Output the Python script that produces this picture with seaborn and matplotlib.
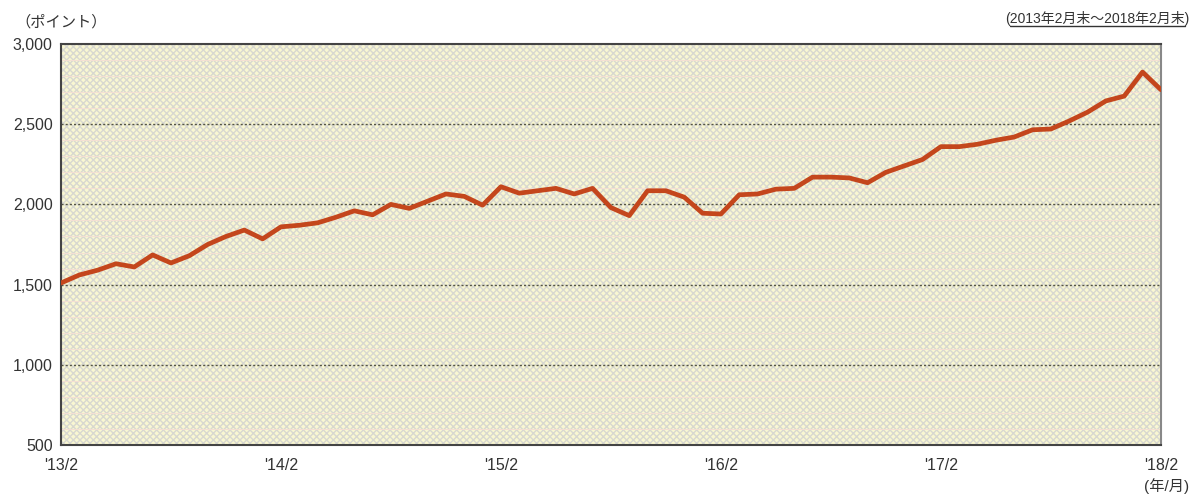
"""TOPIX-style index line chart, 2013/2 - 2018/2 month-end."""

import matplotlib
matplotlib.use("Agg")

import matplotlib.pyplot as plt  # noqa: E402
import numpy as np  # noqa: E402
import pandas as pd  # noqa: E402
import seaborn as sns  # noqa: E402
from matplotlib.patches import Rectangle  # noqa: E402

sns.set_theme(style="white")
plt.rcParams["font.family"] = ["Liberation Sans", "Noto Sans CJK JP"]

# Data (month-end values)
months = list(range(61))
values = [
    1510, 1560, 1590, 1630, 1610, 1685, 1635, 1680, 1750, 1800, 1840, 1785,
    1860, 1870, 1885, 1920, 1960, 1935, 2000, 1975, 2020, 2065, 2050, 1995,
    2110, 2070, 2085, 2100, 2065, 2100, 1980, 1930, 2085, 2085, 2045, 1945,
    1940, 2060, 2065, 2095, 2100, 2170, 2170, 2165, 2135, 2200, 2240, 2280,
    2360, 2360, 2375, 2400, 2420, 2465, 2470, 2520, 2575, 2645, 2675, 2825,
    2715,
]
xtick_pos = [0, 12, 24, 36, 48, 60]
xtick_labels = ["'13/2", "'14/2", "'15/2", "'16/2", "'17/2", "'18/2"]
ytick_pos = [500, 1000, 1500, 2000, 2500, 3000]

df = pd.DataFrame({"month": months, "value": values})

fig = plt.figure(figsize=(11.98, 4.97), dpi=100)
ax = fig.add_axes([0.0509, 0.1046, 0.9181, 0.8069])

# background: pale yellow with fine grey crosshatch
ax.set_facecolor("#f9f7d2")
ax.add_patch(Rectangle((0, 0), 1, 1, transform=ax.transAxes, facecolor="none",
                       edgecolor="#d8d8d0", hatch="xxxxx", linewidth=0, zorder=0))

# faint minor grid every 100, dotted major grid every 500
for yv in np.arange(600, 3000, 100):
    if yv % 500:
        ax.axhline(yv, color="#f4e0d4", linewidth=0.7, zorder=1)
for yv in [1000, 1500, 2000, 2500]:
    ax.axhline(yv, color="#555544", linewidth=1.0, linestyle=(0, (1.5, 1.5)), zorder=1)

sns.lineplot(data=df, x="month", y="value", ax=ax, color="#c4461c",
             linewidth=3.4, zorder=3)

ax.set_xlim(0, 60)
ax.set_ylim(500, 3000)
ax.set_xticks(xtick_pos)
ax.set_xticklabels(xtick_labels)
ax.set_yticks(ytick_pos)
ax.set_yticklabels([f"{v:,}" for v in ytick_pos])
ax.tick_params(axis="x", direction="in", length=4, width=1, color="#333333",
               labelsize=11.5, pad=9, labelcolor="#333333")
ax.tick_params(axis="y", length=0, labelsize=11.5, pad=6, labelcolor="#333333")
ax.set_xlabel("")
ax.set_ylabel("")
for side in ["left", "bottom", "top"]:
    ax.spines[side].set_color("#444444")
    ax.spines[side].set_linewidth(1.5)
ax.spines["right"].set_color("#888888")
ax.spines["right"].set_linewidth(1.5)

fig.text(0.013, 0.955, "（ポイント）", fontsize=11, color="#333333",
         ha="left", va="center")
fig.text(0.993, 0.022, "(年/月)", fontsize=11, color="#333333",
         ha="right", va="center")
t = fig.text(0.993, 0.962, "(2013年2月末～2018年2月末)", fontsize=10,
             color="#333333", ha="right", va="center")

# underline for period note
fig.canvas.draw()
bb = t.get_window_extent().transformed(fig.transFigure.inverted())
fig.add_artist(plt.Line2D([bb.x0 + 0.004, bb.x1 - 0.004], [bb.y0, bb.y0],
                          transform=fig.transFigure, color="#333333", linewidth=1))

plt.savefig("out.png", dpi=100)
plt.close()
